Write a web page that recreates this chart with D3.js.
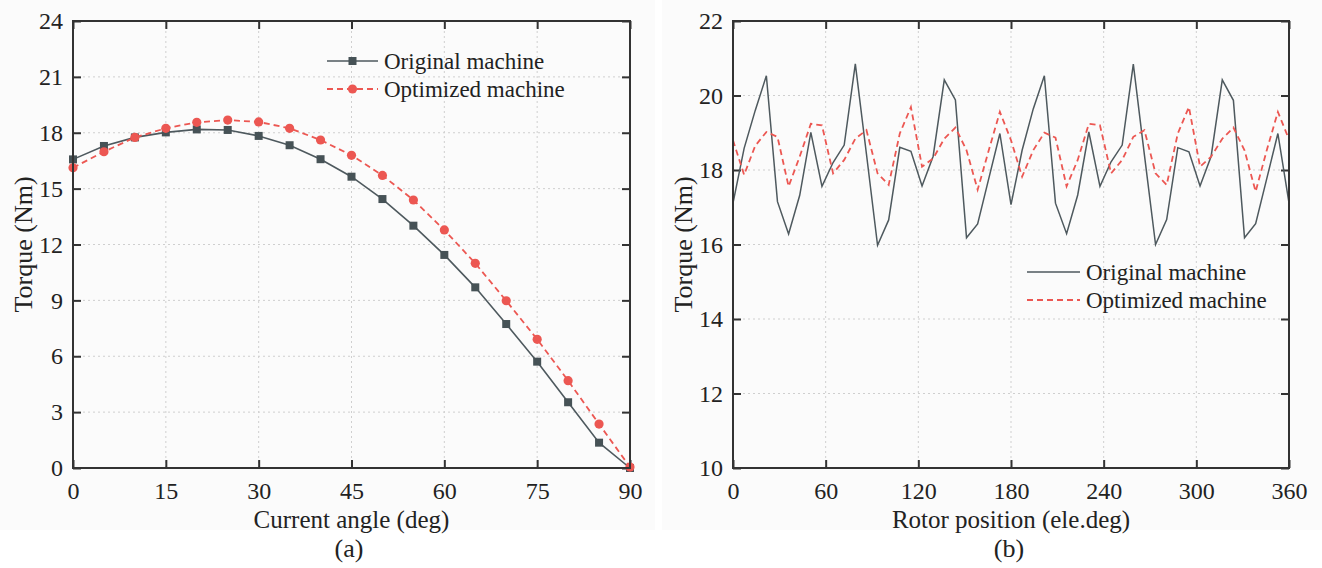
<!DOCTYPE html>
<html lang="en">
<head>
  <meta charset="UTF-8">
  <title>Torque comparison</title>
  <script src="https://cdn.jsdelivr.net/npm/d3@7"></script>
  <style>
    body { margin: 0; background: #fff; }
    text { font-family: "Liberation Serif", "Times New Roman", serif; fill: #222; }
  </style>
</head>
<body>
  <script>

  //Width and height
  var w = 1322;
  var h = 568;

  // (a) torque vs current angle
  var angles = [0, 5, 10, 15, 20, 25, 30, 35, 40, 45, 50, 55, 60, 65, 70, 75, 80, 85, 90];
  var origAngle = [16.57, 17.29, 17.75, 18.02, 18.18, 18.15, 17.83, 17.33, 16.58, 15.64,
                   14.44, 13.01, 11.44, 9.70, 7.73, 5.71, 3.53, 1.36, 0];
  var optAngle = [16.12, 16.98, 17.75, 18.24, 18.56, 18.68, 18.58, 18.24, 17.61, 16.79,
                  15.71, 14.39, 12.78, 10.99, 8.98, 6.91, 4.69, 2.36, 0.05];
  var angleTicksX = [0, 15, 30, 45, 60, 75, 90];
  var angleTicksY = [0, 3, 6, 9, 12, 15, 18, 21, 24];

  // (b) torque vs rotor position
  var positions = [0, 7.2, 14.4, 21.6, 28.8, 36, 43.2, 50.4, 57.6, 64.8, 72, 79.2, 86.4,
                   93.6, 100.8, 108, 115.2, 122.4, 129.6, 136.8, 144, 151.2, 158.4, 165.6,
                   172.8, 180, 187.2, 194.4, 201.6, 208.8, 216, 223.2, 230.4, 237.6, 244.8,
                   252, 259.2, 266.4, 273.6, 280.8, 288, 295.2, 302.4, 309.6, 316.8, 324,
                   331.2, 338.4, 345.6, 352.8, 360];
  var origPos = [17.11, 18.58, 19.60, 20.53, 17.15, 16.28, 17.32, 19.01, 17.56, 18.20,
                 18.67, 20.85, 18.43, 15.98, 16.66, 18.61, 18.50, 17.57, 18.37, 20.42,
                 19.88, 16.18, 16.55, 17.77, 18.98, 17.07, 18.53, 19.64, 20.53, 17.11,
                 16.29, 17.33, 19.02, 17.56, 18.22, 18.67, 20.84, 18.40, 16.00, 16.67,
                 18.60, 18.49, 17.57, 18.37, 20.42, 19.87, 16.18, 16.56, 17.77, 18.98, 17.12];
  var optPos = [18.80, 17.87, 18.65, 19.02, 18.89, 17.56, 18.36, 19.24, 19.20, 17.91,
                18.27, 18.84, 19.07, 17.91, 17.60, 18.98, 19.69, 18.09, 18.31, 18.84,
                19.14, 18.53, 17.47, 18.53, 19.56, 18.80, 17.82, 18.53, 19.00, 18.87,
                17.56, 18.27, 19.24, 19.20, 17.91, 18.27, 18.89, 19.07, 17.91, 17.60,
                18.98, 19.69, 18.09, 18.36, 18.84, 19.14, 18.53, 17.42, 18.53, 19.56, 18.82];
  var posTicksX = [0, 60, 120, 180, 240, 300, 360];
  var posTicksY = [10, 12, 14, 16, 18, 20, 22];

  var seriesNames = ["Original machine", "Optimized machine"];

  var grey = "#4e595e";
  var red = "#ec5752";

  var svg = d3.select("body")
        .append("svg")
        .attr("width", w)
        .attr("height", h);

  // faint panel backgrounds like the scanned figure
  svg.append("rect").attr("x", 0).attr("y", 0).attr("width", 655).attr("height", 530).attr("fill", "#fbfbfb");
  svg.append("rect").attr("x", 662).attr("y", 0).attr("width", 660).attr("height", 530).attr("fill", "#fbfbfb");

  function drawPanel(opt) {
    var left = opt.left, right = opt.right, top = 21, bottom = 468;

    var xScale = d3.scaleLinear().domain(opt.xDomain).range([left, right]);
    var yScale = d3.scaleLinear().domain(opt.yDomain).range([bottom, top]);

    var g = svg.append("g");

    //Grid
    g.selectAll(".vgrid")
     .data(opt.xTicks)
     .enter()
     .append("line")
     .attr("x1", function(d) { return xScale(d); })
     .attr("x2", function(d) { return xScale(d); })
     .attr("y1", top)
     .attr("y2", bottom)
     .attr("stroke", "#cfcfcf")
     .attr("stroke-width", 1)
     .attr("stroke-dasharray", "2,3");

    g.selectAll(".hgrid")
     .data(opt.yTicks)
     .enter()
     .append("line")
     .attr("x1", left)
     .attr("x2", right)
     .attr("y1", function(d) { return yScale(d); })
     .attr("y2", function(d) { return yScale(d); })
     .attr("stroke", "#cfcfcf")
     .attr("stroke-width", 1)
     .attr("stroke-dasharray", "2,3");

    //Axes, ticks pointing inwards
    var xAxis = d3.axisBottom(xScale).tickValues(opt.xTicks).tickSize(-8).tickPadding(14);
    var yAxis = d3.axisLeft(yScale).tickValues(opt.yTicks).tickSize(-8).tickPadding(10);
    var xTop = d3.axisTop(xScale).tickValues(opt.xTicks).tickSize(-8).tickFormat("");
    var yRight = d3.axisRight(yScale).tickValues(opt.yTicks).tickSize(-8).tickFormat("");

    var axes = [
      g.append("g").attr("transform", "translate(0," + bottom + ")").call(xAxis),
      g.append("g").attr("transform", "translate(" + left + ",0)").call(yAxis),
      g.append("g").attr("transform", "translate(0," + top + ")").call(xTop),
      g.append("g").attr("transform", "translate(" + right + ",0)").call(yRight)
    ];
    axes.forEach(function(a) {
      a.select(".domain").remove();
      a.selectAll(".tick line").attr("stroke", "#333").attr("stroke-width", 2);
      a.selectAll(".tick text")
       .attr("fill", "#222")
       .style("font-family", "'Liberation Serif', 'Times New Roman', serif")
       .style("font-size", "24px");
    });

    //Lines
    var lineGen = d3.line()
      .x(function(d) { return xScale(d[0]); })
      .y(function(d) { return yScale(d[1]); });

    var origData = opt.xs.map(function(x, i) { return [x, opt.orig[i]]; });
    var optData = opt.xs.map(function(x, i) { return [x, opt.opt[i]]; });

    g.append("path")
     .datum(origData)
     .attr("d", lineGen)
     .attr("fill", "none")
     .attr("stroke", grey)
     .attr("stroke-width", opt.markers ? 1.6 : 1.5);

    g.append("path")
     .datum(optData)
     .attr("d", lineGen)
     .attr("fill", "none")
     .attr("stroke", red)
     .attr("stroke-width", 1.8)
     .attr("stroke-dasharray", "6,4");

    if (opt.markers) {
      g.selectAll(".sq")
       .data(origData)
       .enter()
       .append("rect")
       .attr("x", function(d) { return xScale(d[0]) - 4; })
       .attr("y", function(d) { return yScale(d[1]) - 4; })
       .attr("width", 8)
       .attr("height", 8)
       .attr("fill", "#465256");

      g.selectAll(".dot")
       .data(optData)
       .enter()
       .append("circle")
       .attr("cx", function(d) { return xScale(d[0]); })
       .attr("cy", function(d) { return yScale(d[1]); })
       .attr("r", 4.6)
       .attr("fill", red);
    }

    //Frame
    g.append("rect")
     .attr("x", left)
     .attr("y", top)
     .attr("width", right - left)
     .attr("height", bottom - top)
     .attr("fill", "none")
     .attr("stroke", "#333")
     .attr("stroke-width", 2);

    //Legend
    var lg = g.append("g");
    seriesNames.forEach(function(name, i) {
      var ly = opt.legendY + i * opt.legendGap;
      lg.append("line")
        .attr("x1", opt.legendX)
        .attr("x2", opt.legendX + opt.legendLen)
        .attr("y1", ly)
        .attr("y2", ly)
        .attr("stroke", i == 0 ? grey : red)
        .attr("stroke-width", i == 0 ? 1.6 : 1.8)
        .attr("stroke-dasharray", i == 0 ? null : "6,4");
      if (opt.markers) {
        var cx = opt.legendX + opt.legendLen / 2;
        if (i == 0) {
          lg.append("rect").attr("x", cx - 4).attr("y", ly - 4).attr("width", 8).attr("height", 8).attr("fill", "#465256");
        } else {
          lg.append("circle").attr("cx", cx).attr("cy", ly).attr("r", 4.6).attr("fill", red);
        }
      }
      lg.append("text")
        .attr("x", opt.legendX + opt.legendLen + 6)
        .attr("y", ly)
        .attr("dy", "0.35em")
        .style("font-size", "23px")
        .text(name);
    });

    //Axis titles
    g.append("text")
     .attr("x", (left + right) / 2)
     .attr("y", 528)
     .style("text-anchor", "middle")
     .style("font-size", "25px")
     .text(opt.xLabel);

    g.append("text")
     .attr("transform", "translate(" + (left - 41) + "," + ((top + bottom) / 2) + ") rotate(-90)")
     .style("text-anchor", "middle")
     .style("font-size", "26px")
     .text("Torque (Nm)");

    //Panel caption
    g.append("text")
     .attr("x", opt.captionX)
     .attr("y", 557)
     .style("text-anchor", "middle")
     .style("font-size", "26px")
     .text(opt.caption);
  }

  drawPanel({
    left: 73, right: 630,
    xDomain: [0, 90], yDomain: [0, 24],
    xTicks: angleTicksX, yTicks: angleTicksY,
    xs: angles, orig: origAngle, opt: optAngle,
    markers: true,
    legendX: 327, legendY: 61, legendGap: 28, legendLen: 51,
    xLabel: "Current angle (deg)",
    caption: "(a)", captionX: 349
  });

  drawPanel({
    left: 733, right: 1289,
    xDomain: [0, 360], yDomain: [10, 22],
    xTicks: posTicksX, yTicks: posTicksY,
    xs: positions, orig: origPos, opt: optPos,
    markers: false,
    legendX: 1027, legendY: 272, legendGap: 28, legendLen: 53,
    xLabel: "Rotor position (ele.deg)",
    caption: "(b)", captionX: 1009
  });

  </script>
</body>
</html>
